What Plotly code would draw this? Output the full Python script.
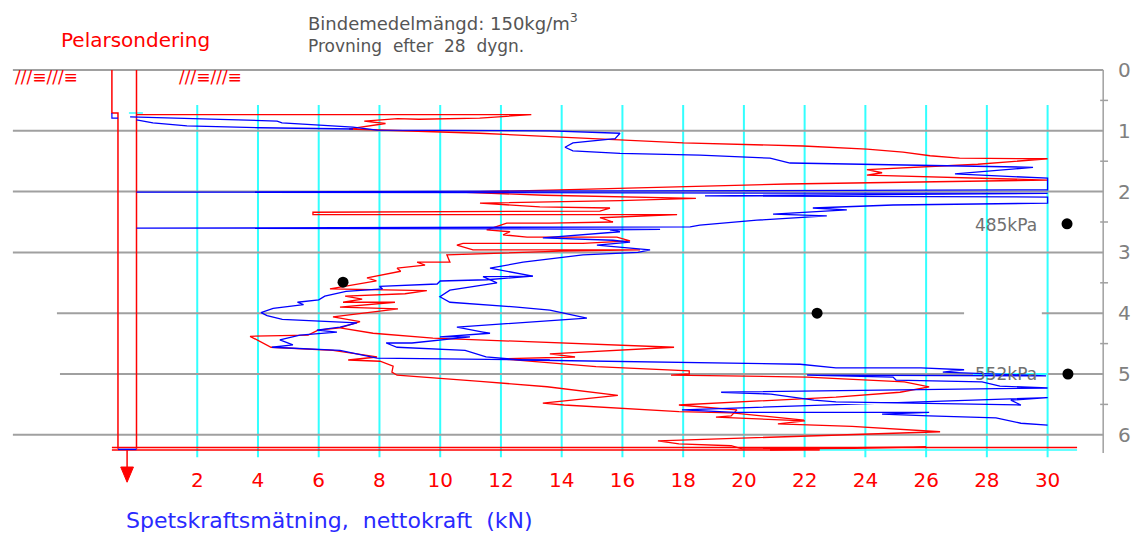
import plotly.graph_objects as go

# ---------------- data (force in kN, depth in m) ----------------
tick_kn = [2, 4, 6, 8, 10, 12, 14, 16, 18, 20, 22, 24, 26, 28, 30]
depth_ticks = [0, 1, 2, 3, 4, 5, 6]

red1_kn = [0.0, 13.0, 11.3, 9.3, 8.6, 7.5, 8.2, 7.0, 11.3, 13.94, 18.0, 21.95, 24.05, 25.24, 26.13, 27.1,
           30.0, 27.7, 24.05, 24.55, 24.05, 30.0, 21.42, 13.94, 10.65, 13.44, 18.42, 15.92, 11.31, 13.28,
           15.59, 15.26, 5.81, 5.81, 17.8, 15.26, 15.69, 13.61, 12.19, 11.53, 12.3, 12.07, 12.86, 15.82,
           16.25, 14.7, 10.75, 10.55, 11.08, 16.58, 13.94, 10.22, 10.32, 9.24, 9.5, 8.58, 8.7, 7.59, 7.9,
           6.37, 9.56, 8.84, 6.87, 7.43, 6.8, 8.51, 6.7, 8.61, 6.47, 7.36, 6.7, 7.79, 9.76, 17.7, 13.61,
           14.44, 11.97, 15.13, 18.2, 18.2, 17.6, 22.08, 25.28, 26.1, 25.14, 23.03, 17.86, 19.77, 19.58,
           19.08, 22.01, 21.12, 23.56, 26.46, 17.17, 17.86, 19.58, 19.94, 26.0, 20.86]
red1_depth = [0.735, 0.735, 0.79, 0.81, 0.80, 0.84, 0.88, 0.97, 1.04, 1.10, 1.20, 1.25, 1.30, 1.35, 1.41, 1.45,
              1.46, 1.55, 1.64, 1.69, 1.73, 1.81, 1.875, 1.97, 2.01, 2.06, 2.11, 2.15, 2.19, 2.25, 2.27, 2.32,
              2.34, 2.38, 2.38, 2.43, 2.50, 2.52, 2.52, 2.63, 2.66, 2.71, 2.75, 2.75, 2.81, 2.85, 2.85, 2.88,
              2.96, 2.96, 2.98, 3.04, 3.16, 3.16, 3.21, 3.26, 3.31, 3.42, 3.47, 3.60, 3.63, 3.68, 3.72, 3.77,
              3.82, 3.82, 3.90, 3.93, 4.06, 4.14, 4.24, 4.33, 4.41, 4.56, 4.67, 4.72, 4.75, 4.88, 4.95, 5.0,
              5.02, 5.05, 5.13, 5.21, 5.30, 5.38, 5.51, 5.59, 5.69, 5.71, 5.77, 5.82, 5.86, 5.95, 6.10, 6.15,
              6.18, 6.23, 6.20, 6.25]

red2_kn = [6.7, 5.98, 5.65, 3.74, 4.43, 6.47, 7.92, 6.97, 8.02, 8.45, 8.41, 8.58, 11.31, 13.52, 15.85,
           13.38, 14.08, 17.86, 19.61, 21.98]
red2_depth = [4.24, 4.28, 4.36, 4.38, 4.56, 4.61, 4.72, 4.77, 4.79, 4.87, 4.97, 5.02, 5.12, 5.21, 5.35,
              5.48, 5.51, 5.62, 5.64, 5.76]

blue0_kn = [0.0, 0.54, 1.66, 4.07, 7.13]
blue0_depth = [0.82, 0.87, 0.92, 0.95, 0.97]

blue1_kn = [-0.21, 4.63, 4.79, 5.94, 7.13, 7.92, 13.61, 15.92, 15.76, 14.37, 14.11, 14.37, 15.92, 18.55,
            20.86, 21.52, 27.12, 29.52, 26.95, 30.0, 30.0, 0.0, 30.0, 18.72, 30.0, 30.0, 24.91, 22.27, 23.39,
            20.96, 22.73, 20.43, 18.55, 18.23, 0.0, 17.24, 15.59, 15.92, 14.7, 13.38, 15.69, 16.25, 15.16,
            16.35, 16.91, 16.51, 14.7, 12.73, 11.64, 13.05, 11.41, 11.87, 10.88, 10.32, 9.99, 10.32, 12.53,
            13.61, 14.83, 10.55, 11.41, 11.64, 9.99, 10.98, 9.07, 8.22, 8.58, 10.82, 11.51, 12.69, 21.85,
            23.03, 25.83, 27.25, 26.55, 28.07, 29.95, 22.08, 24.91, 25.01, 27.84, 28.43, 30.0, 19.25, 20.89,
            22.31, 23.03, 29.12, 28.79, 30.0, 17.96, 19.74, 26.1, 24.55, 26.1, 28.3, 29.12, 30.0]
blue1_depth = [0.77, 0.84, 0.87, 0.90, 0.94, 0.99, 1.00, 1.04, 1.13, 1.20, 1.27, 1.33, 1.37, 1.40, 1.45,
               1.53, 1.58, 1.60, 1.71, 1.78, 1.97, 2.01, 2.03, 2.07, 2.09, 2.19, 2.22, 2.27, 2.30, 2.37, 2.40,
               2.47, 2.55, 2.58, 2.60, 2.62, 2.63, 2.66, 2.71, 2.76, 2.80, 2.83, 2.88, 2.93, 2.96, 3.00, 3.04,
               3.16, 3.26, 3.39, 3.40, 3.50, 3.57, 3.62, 3.73, 3.82, 3.90, 3.95, 4.08, 4.23, 4.31, 4.33, 4.39,
               4.39, 4.49, 4.49, 4.56, 4.61, 4.72, 4.77, 4.84, 4.90, 4.90, 4.93, 4.97, 5.00, 5.03, 5.02, 5.05,
               5.10, 5.13, 5.20, 5.23, 5.30, 5.33, 5.43, 5.46, 5.51, 5.43, 5.39, 5.59, 5.63, 5.63, 5.66, 5.69,
               5.72, 5.81, 5.84]

blue2_kn = [13.05, 11.54, 10.0, 9.9, 8.0, 8.1, 6.9, 6.2, 6.0, 5.3, 5.5, 4.5, 4.1, 4.3, 4.8, 7.26, 6.7, 5.94,
            6.6, 5.38, 4.72, 5.15, 4.46, 6.7, 7.92, 13.61]
blue2_depth = [3.39, 3.45, 3.47, 3.52, 3.56, 3.60, 3.64, 3.72, 3.78, 3.82, 3.86, 3.92, 3.99, 4.04, 4.10, 4.16,
               4.23, 4.28, 4.31, 4.36, 4.44, 4.52, 4.56, 4.61, 4.74, 4.77]

# pile (pelarsondering) outline
pile_kn = [-0.81, -0.81, -0.61, -0.61]
pile_depth = [0.0, 0.707, 0.707, 6.23]
pile2_kn = [0.0, 0.0]
pile2_depth = [0.0, 6.23]
pile_tip_depth = 6.23

# measured points and labels
dot_kn = [30.64, 6.80, 22.41, 30.67]
dot_depth = [2.53, 3.49, 4.00, 5.00]
kpa_labels = ["485kPa", "552kPa"]
kpa_kn = [28.63, 28.63]
kpa_depth = [2.57, 5.03]

# gray depth lines: depth, start, end (gaps handled below)
gray_depth = [0, 1, 2, 3, 4, 5, 6]
gray_start = [-4.07, -4.07, -4.07, -4.07, -2.62, -2.52, -4.07]
gray_end = 31.83

# ---------------- layout mapping ----------------
W, H = 1136, 536
X_ORIGIN_PX, PX_PER_KN = 136.5, 30.37
Y_ORIGIN_PX, PX_PER_M = 70.0, 60.8
xr = [-X_ORIGIN_PX / PX_PER_KN, (W - X_ORIGIN_PX) / PX_PER_KN]
yr = [(H - Y_ORIGIN_PX) / PX_PER_M, -Y_ORIGIN_PX / PX_PER_M]

RED = "#ff0000"
BLUE = "#0000ff"
CYAN = "#33ffff"
GRAY = "#a0a0a0"

fig = go.Figure()


def seg(xs, ys, color, width, name=""):
    fig.add_trace(go.Scatter(x=xs, y=ys, mode="lines", line=dict(color=color, width=width),
                             hoverinfo="skip", showlegend=False, name=name))


# cyan verticals
cx, cy = [], []
for t in tick_kn:
    cx += [t, t, None]
    cy += [0.575, 6.37, None]
seg(cx, cy, CYAN, 2)

# gray depth lines
gx, gy = [], []
for d, s in zip(gray_depth, gray_start):
    if d == 4:
        gx += [s, 27.25, None, 29.81, gray_end, None]
        gy += [d, d, None, d, d, None]
    elif d == 5:
        gx += [s, 27.55, None, 30.0, gray_end, None]
        gy += [d, d, None, d, d, None]
    else:
        gx += [s, gray_end, None]
        gy += [d, d, None]
seg(gx, gy, GRAY, 2)
seg([27.55, 30.0], [5, 5], CYAN, 2)

# right depth scale line with half ticks
rx, ry = [gray_end, gray_end, None], [0, 6.3, None]
for d in depth_ticks[:-1]:
    rx += [gray_end - 0.1, gray_end + 0.16, None]
    ry += [d + 0.5, d + 0.5, None]
seg(rx, ry, GRAY, 1.5)

# top small cyan tick
seg([-0.25, 0.21], [0.707, 0.707], CYAN, 1.5)

# pile outline
seg(pile_kn, pile_depth, RED, 1.5)
seg(pile2_kn, pile2_depth, RED, 1.5)
seg([-0.81, -0.81, -0.61], [0.707, 0.79, 0.79], BLUE, 1.2)

# sounding curves
seg(red1_kn, red1_depth, RED, 1.3)
seg(red2_kn, red2_depth, RED, 1.3)
seg(blue0_kn, blue0_depth, BLUE, 1.3)
seg(blue1_kn, blue1_depth, BLUE, 1.3)
seg(blue2_kn, blue2_depth, BLUE, 1.3)

# bottom lines
seg([-0.81, 30.97], [pile_tip_depth - 0.02, pile_tip_depth - 0.02], RED, 1.5)
seg([-0.81, 22.5], [pile_tip_depth + 0.02, pile_tip_depth + 0.02], RED, 1.5)
seg([22.5, 30.97], [pile_tip_depth + 0.02, pile_tip_depth + 0.02], CYAN, 1.5)
seg([-0.61, 0.0], [pile_tip_depth + 0.01, pile_tip_depth + 0.01], BLUE, 1.5)

# arrow
seg([-0.31, -0.31], [pile_tip_depth + 0.02, 6.55], RED, 1.5)
fig.add_trace(go.Scatter(x=[-0.52, -0.10, -0.31, -0.52], y=[6.53, 6.53, 6.78, 6.53], mode="lines",
                         fill="toself", fillcolor=RED, line=dict(color=RED, width=1),
                         hoverinfo="skip", showlegend=False))

# black dots
fig.add_trace(go.Scatter(x=dot_kn, y=dot_depth, mode="markers",
                         marker=dict(color="black", size=11), hoverinfo="skip", showlegend=False))

# kPa labels
fig.add_trace(go.Scatter(x=kpa_kn, y=kpa_depth, mode="text", text=kpa_labels,
                         textfont=dict(family="DejaVu Sans", size=17, color="#707070"),
                         hoverinfo="skip", showlegend=False))


def px(xp):
    return xp / W


def py(yp):
    return 1 - yp / H


ann = []
ann.append(dict(text="Pelarsondering", x=px(135), y=py(40), xanchor="center", yanchor="middle",
                font=dict(family="DejaVu Sans", size=20, color=RED)))
ann.append(dict(text="Bindemedelmängd: 150kg/m<sup>3</sup>", x=px(306), y=py(22), xanchor="left",
                yanchor="middle", font=dict(family="DejaVu Sans", size=18, color="#555555")))
ann.append(dict(text="Provning\u00a0\u00a0efter\u00a0\u00a028\u00a0\u00a0dygn.", x=px(306), y=py(46),
                xanchor="left", yanchor="middle", font=dict(family="DejaVu Sans", size=17, color="#555555")))
ann.append(dict(text="Spetskraftsmätning,\u00a0\u00a0nettokraft\u00a0\u00a0(kN)", x=px(124), y=py(520),
                xanchor="left", yanchor="middle", font=dict(family="DejaVu Sans", size=22, color="#2a2aff")))
for xl in (13, 177):
    ann.append(dict(text="///≡///≡", x=px(xl), y=py(77), xanchor="left", yanchor="middle",
                    font=dict(family="DejaVu Sans", size=17, color=RED)))
for a in ann:
    a.update(xref="paper", yref="paper", showarrow=False)

fig.update_layout(
    width=W, height=H, margin=dict(l=0, r=0, t=0, b=0),
    paper_bgcolor="white", plot_bgcolor="white", template="none",
    showlegend=False, annotations=ann,
    xaxis=dict(range=xr, showgrid=False, zeroline=False, showline=False, ticks="",
               tickvals=tick_kn, ticktext=[str(t) for t in tick_kn],
               tickfont=dict(family="DejaVu Sans", size=20, color=RED),
               anchor="free", position=(H - 466) / H, automargin=False, fixedrange=True),
    yaxis=dict(range=yr, showgrid=False, zeroline=False, showline=False, ticks="",
               tickvals=depth_ticks, ticktext=[str(d) for d in depth_ticks],
               tickfont=dict(family="DejaVu Sans", size=20, color="#808080"),
               side="right", anchor="free", position=1117 / W, automargin=False, fixedrange=True),
)

fig.write_html("out.html", config={"displayModeBar": False},
               post_script="document.body.style.margin='0';document.body.style.overflow='hidden';")
